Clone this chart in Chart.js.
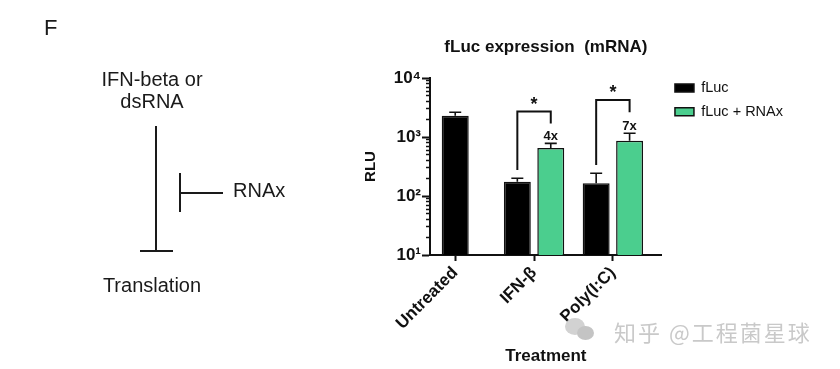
<!DOCTYPE html>
<html>
<head>
<meta charset="utf-8">
<script src="https://cdn.jsdelivr.net/npm/chart.js@4/dist/chart.umd.min.js"></script>
<style>
html,body{margin:0;padding:0;background:#fff;}
#wrap{position:relative;width:840px;height:369px;overflow:hidden;font-family:'Liberation Sans',Arial,Helvetica,sans-serif;color:#1a1a1a;background:#fff;}
#c{position:absolute;left:0;top:0;}
.t{position:absolute;font-size:20px;line-height:20px;white-space:nowrap;}
.ln{position:absolute;background:#1a1a1a;}
.wm{position:absolute;left:614px;top:318px;font-family:'Noto Sans CJK SC',sans-serif;font-size:22px;line-height:26px;color:#c9c9c9;white-space:nowrap;letter-spacing:2px;}
.dot{position:absolute;border-radius:50%;background:#d2d2d2;}
</style>
</head>
<body>
<div id="wrap">
  <canvas id="c" width="840" height="369"></canvas>
  <div class="t" style="left:44px;top:17px;font-size:22px;line-height:22px;">F</div>
  <div class="t" style="left:52px;top:69px;width:200px;text-align:center;">IFN-beta or</div>
  <div class="t" style="left:52px;top:91px;width:200px;text-align:center;">dsRNA</div>
  <div class="ln" style="left:155px;top:126px;width:2px;height:125px;"></div>
  <div class="ln" style="left:140px;top:250px;width:33px;height:2px;"></div>
  <div class="ln" style="left:179px;top:173px;width:2px;height:39px;"></div>
  <div class="ln" style="left:180px;top:192px;width:43px;height:2px;"></div>
  <div class="t" style="left:233px;top:180px;">RNAx</div>
  <div class="t" style="left:52px;top:275px;width:200px;text-align:center;">Translation</div>
  <div class="dot" style="left:565px;top:318px;width:20px;height:17px;"></div>
  <div class="dot" style="left:577px;top:326px;width:17px;height:14px;background:#c4c4c4;"></div>
  <div class="wm">知乎 @工程菌星球</div>
</div>
<script>
// ---- data ----
const categories = ['Untreated', 'IFN-β', 'Poly(I:C)'];
const seriesNames = ['fLuc', 'fLuc + RNAx'];
const fLucValues = [2300, 175, 165];
const fLucErrors = [330, 25, 78];
const rnaxValues = [null, 650, 860];
const rnaxErrors = [null, 130, 300];
const yTickExponents = [1, 2, 3, 4];
const yTickLabels = ['10¹', '10²', '10³', '10⁴'];
// significance brackets (values in RLU)
const bracketGroups = [1, 2];
const bracketTops = [2700, 4250];
const bracketLeftEnds = [275, 335];
const bracketRightEnds = [1700, 2620];
const sigLabels = ['*', '*'];
const foldLabels = ['4x', '7x'];

const FONT = "'Liberation Sans', Arial, Helvetica, sans-serif";
const INK = '#111';

const majorTicks = () => yTickExponents.map(e => ({ value: Math.pow(10, e), major: true }));
const minorTicks = () => {
  const t = [];
  yTickExponents.slice(0, -1).forEach(e => {
    for (let m = 2; m <= 9; m++) t.push({ value: m * Math.pow(10, e) });
  });
  return t;
};

const errorBarPlugin = {
  id: 'errorBars',
  afterDatasetsDraw(chart) {
    const ctx = chart.ctx, y = chart.scales.y;
    chart.data.datasets.forEach((ds, di) => {
      const meta = chart.getDatasetMeta(di);
      meta.data.forEach((bar, i) => {
        const v = ds.data[i], e = ds.errors[i];
        if (v == null || e == null) return;
        const yTop = y.getPixelForValue(v + e);
        ctx.save();
        ctx.strokeStyle = INK;
        ctx.lineWidth = 1.6;
        ctx.beginPath();
        ctx.moveTo(bar.x, bar.y);
        ctx.lineTo(bar.x, yTop);
        ctx.moveTo(bar.x - 6, yTop);
        ctx.lineTo(bar.x + 6, yTop);
        ctx.stroke();
        ctx.restore();
      });
    });
  }
};

const bracketPlugin = {
  id: 'brackets',
  afterDatasetsDraw(chart) {
    const ctx = chart.ctx, y = chart.scales.y;
    const m0 = chart.getDatasetMeta(0), m1 = chart.getDatasetMeta(1);
    bracketGroups.forEach((g, k) => {
      const xl = m0.data[g].x, xr = m1.data[g].x;
      const yt = y.getPixelForValue(bracketTops[k]);
      const yl = y.getPixelForValue(bracketLeftEnds[k]);
      const yr = y.getPixelForValue(bracketRightEnds[k]);
      ctx.save();
      ctx.strokeStyle = INK;
      ctx.lineWidth = 2;
      ctx.beginPath();
      ctx.moveTo(xl, yl);
      ctx.lineTo(xl, yt);
      ctx.lineTo(xr, yt);
      ctx.lineTo(xr, yr);
      ctx.stroke();
      ctx.fillStyle = INK;
      ctx.textAlign = 'center';
      ctx.textBaseline = 'middle';
      ctx.font = 'bold 18px ' + FONT;
      ctx.fillText(sigLabels[k], (xl + xr) / 2, yt - 7);
      const capY = y.getPixelForValue(rnaxValues[g] + rnaxErrors[g]);
      ctx.font = 'bold 13px ' + FONT;
      ctx.fillText(foldLabels[k], xr, capY - 7);
      ctx.restore();
    });
  }
};

new Chart(document.getElementById('c'), {
  type: 'bar',
  data: {
    labels: categories.map((_, i) => i),
    datasets: [
      { label: seriesNames[0], data: fLucValues, errors: fLucErrors,
        backgroundColor: '#000', borderColor: INK, borderWidth: 1.5 },
      { label: seriesNames[1], data: rnaxValues, errors: rnaxErrors,
        backgroundColor: '#4bce8e', borderColor: INK, borderWidth: 1.5 }
    ]
  },
  options: {
    responsive: false,
    animation: false,
    devicePixelRatio: 1,
    datasets: { bar: { skipNull: true, categoryPercentage: 0.848, barPercentage: 0.806, maxBarThickness: 27 } },
    layout: { padding: { left: 0, right: 47, top: 0, bottom: 0 } },
    plugins: {
      title: {
        display: true, text: 'fLuc expression  (mRNA)', fullSize: false, color: INK,
        font: { family: FONT, size: 17, weight: 'bold' },
        padding: { top: 36.8, bottom: 20.8 }
      },
      legend: {
        position: 'right', align: 'start', fullSize: true, maxWidth: 220,
        title: { display: true, text: ' ', font: { size: 10, lineHeight: 1 }, padding: { top: 61.5, bottom: 0 } },
        labels: { boxWidth: 19, boxHeight: 8, padding: 9.2, color: INK,
                  font: { family: FONT, size: 14.5, lineHeight: 1 } }
      },
      tooltip: { enabled: false }
    },
    scales: {
      x: {
        type: 'linear', min: -0.32, max: 2.62, offset: false,
        afterBuildTicks: s => { s.ticks = categories.map((_, i) => ({ value: i })); },
        afterFit: s => { s.height = 114; },
        ticks: {
          callback: v => categories[v], autoSkip: false, maxRotation: 45, minRotation: 45,
          color: INK, padding: 2, font: { family: FONT, size: 17, weight: 'bold' }
        },
        grid: { offset: false, drawOnChartArea: false, drawTicks: true, tickLength: 6, tickWidth: 2, tickColor: INK },
        border: { display: true, width: 2, color: INK },
        title: { display: true, text: 'Treatment', color: INK,
                 font: { family: FONT, size: 17, weight: 'bold' }, padding: { top: 4, bottom: 2 } }
      },
      y: {
        type: 'logarithmic', min: 10, max: 10000, position: 'left', weight: 1,
        afterBuildTicks: s => { s.ticks = majorTicks(); },
        afterFit: s => { s.width = 430; },
        ticks: {
          autoSkip: false, color: INK, padding: 1,
          font: { family: FONT, size: 17, weight: 'bold' },
          callback: v => {
            const k = yTickExponents.findIndex(e => Math.abs(Math.pow(10, e) - v) < 1e-6);
            return k >= 0 ? yTickLabels[k] : '';
          }
        },
        grid: { drawOnChartArea: false, drawTicks: true, tickLength: 8, tickWidth: 2, tickColor: INK },
        border: { display: true, width: 2, color: INK },
        title: { display: true, text: 'RLU', color: INK,
                 font: { family: FONT, size: 15, weight: 'bold' }, padding: { top: 362, bottom: 0 } }
      },
      yMinor: {
        type: 'logarithmic', min: 10, max: 10000, position: 'left', weight: 0,
        afterBuildTicks: s => { s.ticks = minorTicks(); },
        afterFit: s => { s.width = 0; },
        ticks: { display: false, autoSkip: false },
        grid: { drawOnChartArea: false, drawTicks: true, tickLength: 4, tickWidth: 1.5, tickColor: INK },
        border: { display: false }
      },
      gapRight: {
        type: 'linear', min: 0, max: 1, position: 'right', weight: 0,
        afterFit: s => { s.width = 4; },
        ticks: { display: false },
        grid: { display: false },
        border: { display: false }
      }
    }
  },
  plugins: [errorBarPlugin, bracketPlugin]
});
</script>
</body>
</html>
